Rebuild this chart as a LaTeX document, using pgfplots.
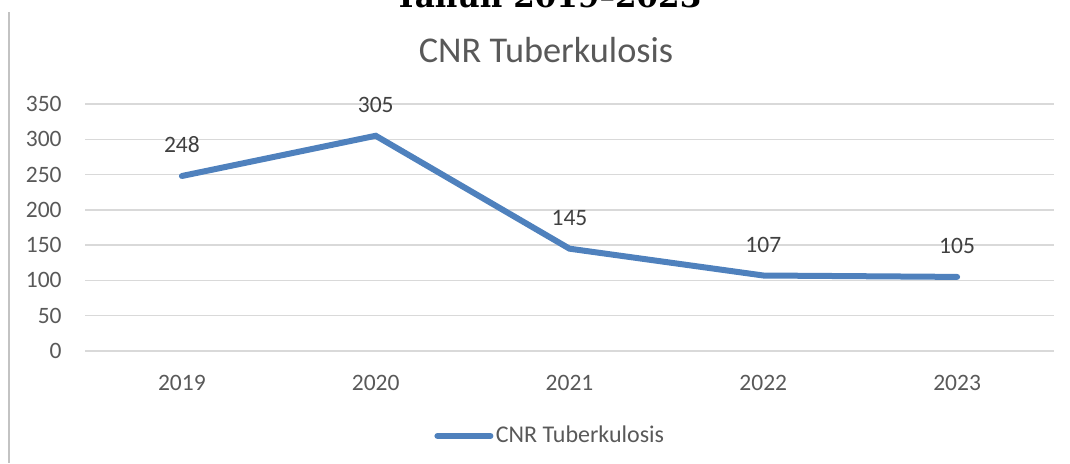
\documentclass[border=0pt]{standalone}
\usepackage{fontspec}
\setmainfont{Carlito}
\newfontfamily\headfont{DejaVu Serif}
\usepackage{pgfplots}
\pgfplotsset{compat=1.18}

\definecolor{tbblue}{HTML}{4F81BD}
\definecolor{txtgray}{HTML}{595959}
\definecolor{lblgray}{HTML}{404040}
\definecolor{gridgray}{HTML}{D9D9D9}

\begin{document}
\begin{tikzpicture}
% page = 1070 x 463 px at 0.5pt per px
\useasboundingbox (0,0) rectangle (535pt,231.5pt);
\clip (0,0) rectangle (535pt,231.5pt);

% cut-off heading above the chart
\node[anchor=base, inner sep=0pt, font=\headfont\bfseries\fontsize{15.5pt}{18pt}\selectfont]
  at (274pt,227.75pt) {Tahun 2019–2023};

% thin frame line on the left
\draw[gridgray!90!black, line width=1pt] (4.5pt,225.5pt) -- (4.5pt,0pt);

% chart title
\node[anchor=base, inner sep=0pt, text=txtgray, font=\fontsize{18.15pt}{22pt}\selectfont]
  at (273pt,200.15pt) {CNR Tuberkulosis};

\begin{axis}[
    at={(42.5pt,56pt)}, anchor=south west,
    scale only axis,
    width=484.5pt, height=123.5pt,
    xmin=-0.5, xmax=4.5,
    ymin=0, ymax=350,
    xtick={0,1,2,3,4},
    xticklabels={2019,2020,2021,2022,2023},
    ytick={0,50,...,350},
    axis line style={draw=none},
    major tick length=0pt,
    ymajorgrids,
    grid style={gridgray, line width=0.75pt},
    /pgf/number format/assume math mode=true,
    tick label style={text=txtgray, font=\fontsize{11.75pt}{14pt}\selectfont},
    xticklabel style={anchor=base, inner sep=0pt, yshift=-19.75pt},
    yticklabel style={anchor=east, inner sep=0pt, xshift=-11.5pt},
    nodes near coords,
    every node near coord/.append style={anchor=center, inner sep=0pt, yshift=15.5pt,
        text=lblgray, font=\fontsize{11.75pt}{14pt}\selectfont},
    legend style={at={(0.4804,-0.344)}, anchor=center, draw=none, fill=none,
        inner sep=0pt, text=txtgray, font=\fontsize{12pt}{14pt}\selectfont,
        nodes={inner sep=1.25pt}},
    legend image code/.code={\draw[line width=3pt, line cap=round] (0pt,0pt) -- (26.5pt,0pt);},
]
\addplot[tbblue, line width=3pt, line cap=round, line join=miter, mark=none]
  coordinates {(0,248) (1,305) (2,145) (3,107) (4,105)};
\addlegendentry{CNR Tuberkulosis}
\end{axis}
\end{tikzpicture}
\end{document}
